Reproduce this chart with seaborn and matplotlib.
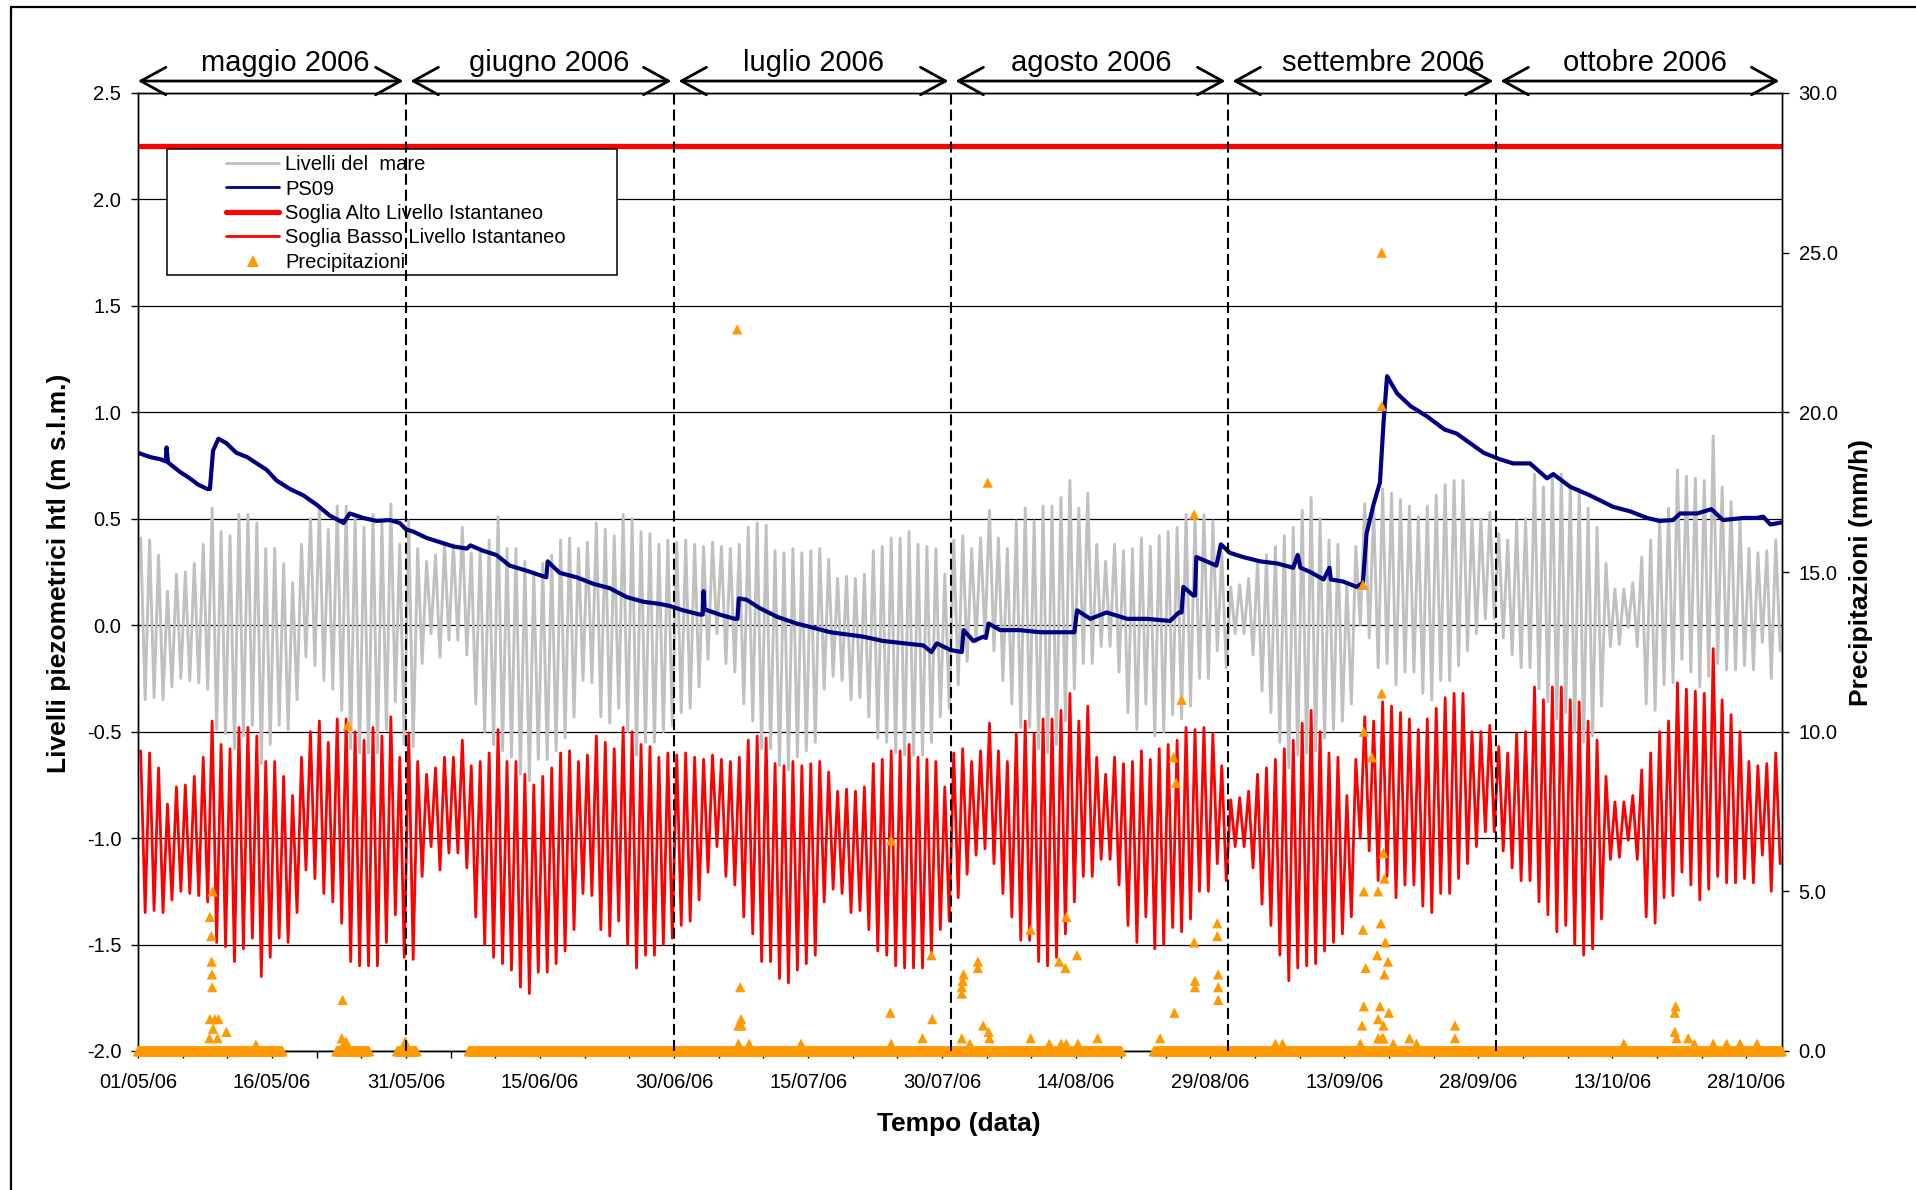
import numpy as np
import pandas as pd
import matplotlib
matplotlib.use("Agg")
import matplotlib.pyplot as plt
import matplotlib.transforms as mtransforms
import seaborn as sns
from matplotlib.lines import Line2D
from matplotlib.patches import Rectangle

# ------------------------------------------------------------------ data
# time axis: days since 01/05/06 00:00
month_labels = ["maggio 2006", "giugno 2006", "luglio 2006",
                "agosto 2006", "settembre 2006", "ottobre 2006"]
month_bounds = [0, 30, 60, 91, 122, 152, 184]
x_tick_days = [0, 15, 30, 45, 60, 75, 90, 105, 120, 135, 150, 165, 180]
x_tick_labels = ["01/05/06", "16/05/06", "31/05/06", "15/06/06", "30/06/06",
                 "15/07/06", "30/07/06", "14/08/06", "29/08/06", "13/09/06",
                 "28/09/06", "13/10/06", "28/10/06"]

# Livelli del mare: daily high / low water (m s.l.m.), one value per day
mare_alta = [
    0.41, 0.40, 0.33, 0.16, 0.24, 0.25, 0.29, 0.38, 0.55, 0.44, 0.42, 0.52, 0.52, 0.48, 0.36,
    0.36, 0.29, 0.20, 0.38, 0.50, 0.55, 0.45, 0.56, 0.56, 0.50, 0.46, 0.52, 0.48, 0.57, 0.38,
    0.49, 0.36, 0.30, 0.33, 0.38, 0.38, 0.46, 0.34, 0.36, 0.40, 0.51, 0.36, 0.36, 0.30, 0.25,
    0.29, 0.33, 0.40, 0.41, 0.36, 0.39, 0.48, 0.45, 0.42, 0.52, 0.50, 0.44, 0.43, 0.38, 0.40,
    0.39, 0.40, 0.38, 0.37, 0.39, 0.37, 0.36, 0.38, 0.46, 0.48, 0.47, 0.35, 0.34, 0.36, 0.34,
    0.35, 0.36, 0.31, 0.22, 0.23, 0.22, 0.24, 0.35, 0.37, 0.41, 0.41, 0.44, 0.38, 0.37, 0.36,
    0.24, 0.40, 0.42, 0.36, 0.41, 0.54, 0.41, 0.36, 0.49, 0.55, 0.49, 0.56, 0.56, 0.60, 0.68,
    0.55, 0.62, 0.38, 0.30, 0.38, 0.35, 0.36, 0.41, 0.37, 0.42, 0.44, 0.46, 0.52, 0.51, 0.52,
    0.49, 0.34, 0.18, 0.19, 0.22, 0.30, 0.33, 0.37, 0.42, 0.46, 0.54, 0.60, 0.50, 0.40, 0.38,
    0.20, 0.37, 0.57, 0.55, 0.64, 0.62, 0.59, 0.56, 0.51, 0.56, 0.61, 0.66, 0.68, 0.68, 0.50,
    0.50, 0.53, 0.43, 0.40, 0.49, 0.50, 0.71, 0.65, 0.71, 0.71, 0.65, 0.64, 0.55, 0.46, 0.29,
    0.17, 0.17, 0.20, 0.32, 0.40, 0.50, 0.55, 0.73, 0.70, 0.69, 0.68, 0.89, 0.65, 0.58, 0.50,
    0.36, 0.34, 0.35, 0.40]
mare_bassa = [
    -0.35, -0.34, -0.35, -0.29, -0.25, -0.26, -0.27, -0.30, -0.49, -0.51, -0.58, -0.52, -0.47, -0.65, -0.56,
    -0.47, -0.49, -0.35, -0.15, -0.19, -0.26, -0.30, -0.40, -0.58, -0.60, -0.60, -0.60, -0.49, -0.36, -0.56,
    -0.57, -0.18, -0.04, -0.15, -0.07, -0.07, -0.14, -0.37, -0.50, -0.56, -0.59, -0.62, -0.70, -0.73, -0.63,
    -0.63, -0.59, -0.53, -0.43, -0.26, -0.27, -0.43, -0.46, -0.39, -0.50, -0.61, -0.55, -0.55, -0.50, -0.47,
    -0.41, -0.39, -0.29, -0.16, -0.04, -0.18, -0.22, -0.37, -0.45, -0.58, -0.58, -0.66, -0.68, -0.62, -0.59,
    -0.55, -0.30, -0.24, -0.26, -0.35, -0.34, -0.43, -0.53, -0.55, -0.60, -0.61, -0.61, -0.61, -0.55, -0.43,
    -0.39, -0.28, -0.17, -0.08, -0.05, -0.12, -0.26, -0.37, -0.48, -0.48, -0.58, -0.60, -0.56, -0.45, -0.30,
    -0.18, -0.18, -0.10, -0.10, -0.22, -0.41, -0.49, -0.37, -0.52, -0.50, -0.42, -0.44, -0.38, -0.25, -0.25,
    -0.12, -0.20, -0.04, -0.04, -0.14, -0.31, -0.41, -0.55, -0.67, -0.61, -0.60, -0.59, -0.53, -0.49, -0.45,
    -0.37, 0.00, -0.06, -0.20, -0.18, -0.28, -0.22, -0.22, -0.32, -0.35, -0.26, -0.26, -0.19, -0.12, -0.04,
    0.03, 0.03, -0.06, -0.14, -0.20, -0.20, -0.30, -0.36, -0.44, -0.41, -0.50, -0.55, -0.52, -0.38, -0.10,
    -0.09, -0.01, -0.10, -0.37, -0.40, -0.28, -0.27, -0.16, -0.22, -0.29, -0.24, -0.18, -0.21, -0.21, -0.19,
    -0.21, -0.08, -0.25, -0.12]
ora_alta = 0.3    # time of day (fraction) of the high-water sample
ora_bassa = 0.8   # time of day of the low-water sample
# Soglia Basso Livello Istantaneo follows the sea level shifted by -1.0 m
soglia_basso_scarto = -1.0
soglia_alto = 2.25

# PS09 piezometric level (day, m s.l.m.)
ps09_giorni = [0, 1.34, 2.46, 3.1, 3.2, 3.35, 4.7, 5.8, 6.75, 7.75, 8.05, 8.4, 9.0, 9.9, 11.0,
               12.2, 13.3, 14.4, 15.5, 17.0, 18.5, 20.0, 21.5, 22.6, 23.0, 23.7, 25.2, 26.7, 28.2, 29.3,
               30.0, 30.8, 32.3, 33.8, 35.3, 36.8, 37.2, 38.6, 40.1, 41.6, 43.5, 45.7, 45.85, 47.2, 49.1,
               51.0, 52.8, 54.7, 56.6, 58.4, 59.55, 61.0, 62.9, 63.2, 63.3, 63.4, 65.1, 66.8, 67.1, 67.25,
               68.1, 69.6, 71.5, 73.7, 75.6, 77.5, 79.3, 81.2, 83.4, 85.7, 87.9, 88.8, 89.4, 90.9, 92.2,
               92.4, 93.5, 94.6, 94.9, 95.2, 96.5, 98.7, 101.0, 102.8, 104.8, 105.1, 106.6, 108.4, 110.7, 112.9,
               115.5, 116.5, 116.8, 117.0, 118.1, 118.3, 118.45, 119.6, 120.7, 121.2, 122.2, 123.7, 125.6, 127.5, 129.3,
               129.8, 130.1, 131.2, 132.7, 133.35, 133.5, 134.9, 136.4, 137.1, 137.5, 138.3, 139.0, 139.4, 139.8, 140.9,
               142.4, 144.3, 146.2, 147.6, 149.1, 150.6, 152.4, 153.9, 155.8, 157.7, 158.4, 160.3, 162.5, 165.1, 167.0,
               168.9, 170.3, 171.8, 172.6, 174.5, 176.1, 177.4, 179.7, 181.2, 181.9, 182.7, 184.0]
ps09_livello = [0.81, 0.79, 0.78, 0.77, 0.835, 0.765, 0.72, 0.69, 0.66, 0.64, 0.64, 0.82, 0.876, 0.855, 0.81,
                0.79, 0.76, 0.73, 0.68, 0.64, 0.61, 0.566, 0.514, 0.49, 0.48, 0.525, 0.504, 0.49, 0.494, 0.48,
                0.45, 0.44, 0.41, 0.39, 0.37, 0.36, 0.375, 0.35, 0.33, 0.28, 0.256, 0.225, 0.30, 0.246, 0.225,
                0.194, 0.174, 0.132, 0.11, 0.10, 0.09, 0.07, 0.05, 0.05, 0.16, 0.075, 0.05, 0.03, 0.03, 0.126,
                0.12, 0.08, 0.04, 0.008, -0.012, -0.033, -0.043, -0.054, -0.074, -0.085, -0.095, -0.126, -0.085, -0.116, -0.126,
                -0.023, -0.074, -0.054, -0.06, 0.008, -0.023, -0.023, -0.033, -0.033, -0.033, 0.07, 0.03, 0.06, 0.03, 0.03,
                0.02, 0.06, 0.06, 0.18, 0.14, 0.14, 0.32, 0.30, 0.28, 0.38, 0.34, 0.32, 0.30, 0.29, 0.27,
                0.33, 0.27, 0.25, 0.215, 0.27, 0.215, 0.205, 0.18, 0.20, 0.43, 0.57, 0.67, 0.95, 1.17, 1.09,
                1.03, 0.98, 0.92, 0.90, 0.855, 0.81, 0.78, 0.76, 0.76, 0.69, 0.71, 0.65, 0.61, 0.556, 0.535,
                0.504, 0.49, 0.494, 0.525, 0.525, 0.545, 0.494, 0.504, 0.504, 0.51, 0.473, 0.483]

# Precipitazioni (mm/h): hourly records; periods with data recorded as 0 mm/h
pioggia_periodi_zero = [(0.0, 16.2), (22.2, 25.9), (29.0, 31.2), (37.0, 110.1), (113.7, 184.0)]
pioggia_giorni = [8.36, 8.05, 8.2, 8.24, 8.27, 8.3, 8.05, 8.6, 9.0, 9.9, 8.0, 8.9, 8.4, 13.2,
                  22.9, 23.5, 22.8, 23.0, 23.3, 29.7, 29.9,
                  67.06, 67.4, 67.5, 67.2, 67.55, 67.2, 68.4, 74.2, 84.3, 84.2, 84.3, 88.8, 88.9, 87.8,
                  95.1, 92.2, 92.4, 92.3, 92.2, 94.0, 94.0, 94.6, 95.2, 95.3, 92.2, 93.1, 99.9, 99.9, 102.0,
                  103.1, 103.8, 103.9, 105.1, 105.2, 103.3, 103.9, 107.4, 114.4, 116.0, 115.9, 116.2, 116.8, 118.2, 118.2,
                  118.3, 118.3, 120.8, 120.8, 120.9, 120.9, 120.9,
                  127.3, 128.1, 137.1, 137.2, 139.4, 139.5, 137.2, 138.8, 139.2, 138.1, 139.2, 139.2, 137.1, 137.4,
                  139.1, 139.6, 138.7, 139.9, 139.5, 137.2, 137.0, 139.0, 140.0, 138.8, 139.4, 138.8, 139.2, 139.4,
                  140.5, 142.3, 143.1, 147.4, 147.4, 136.8,
                  166.3, 172.1, 172.0, 172.0, 172.2, 173.5, 174.2, 176.3, 177.8, 179.3, 181.2]
pioggia_mmh = [5.0, 4.2, 3.6, 2.8, 2.4, 2.0, 1.0, 1.0, 1.0, 0.6, 0.4, 0.4, 0.7, 0.2,
               1.6, 10.2, 0.4, 0.2, 0.3, 0.15, 0.3,
               22.6, 2.0, 1.0, 0.8, 0.8, 0.23, 0.23, 0.23, 6.6, 1.2, 0.23, 3.0, 1.0, 0.4,
               17.8, 1.8, 2.4, 2.2, 2.0, 2.8, 2.6, 0.8, 0.6, 0.4, 0.4, 0.23, 3.8, 0.4, 0.23,
               2.8, 2.6, 4.2, 3.0, 0.23, 0.23, 0.23, 0.4, 0.4, 1.2, 9.2, 8.4, 11.0, 16.8, 3.4,
               2.2, 2.0, 4.0, 3.6, 2.4, 2.0, 1.6,
               0.23, 0.23, 14.6, 10.0, 6.2, 5.4, 5.0, 5.0, 11.2, 9.2, 20.2, 25.0, 3.8, 2.6,
               4.0, 3.4, 3.0, 2.8, 2.4, 1.4, 0.8, 1.4, 1.2, 1.0, 0.8, 0.4, 0.4, 0.4,
               0.23, 0.4, 0.23, 0.8, 0.4, 0.23,
               0.23, 1.4, 1.2, 0.6, 0.4, 0.4, 0.23, 0.23, 0.23, 0.23, 0.23]

legend_labels = ["Livelli del  mare", "PS09", "Soglia Alto Livello Istantaneo",
                 "Soglia Basso Livello Istantaneo", "Precipitazioni"]

# ------------------------------------------------------------------ tables
giorni = np.arange(len(mare_alta))
t_mare = np.ravel(np.column_stack([giorni + ora_alta, giorni + ora_bassa]))
v_mare = np.ravel(np.column_stack([mare_alta, mare_bassa]))
df_mare = pd.DataFrame({"t": t_mare, "livello": v_mare})
df_basso = pd.DataFrame({"t": t_mare, "livello": v_mare + soglia_basso_scarto})
df_ps09 = pd.DataFrame({"t": ps09_giorni, "livello": ps09_livello})
df_alto = pd.DataFrame({"t": [month_bounds[0], month_bounds[-1]],
                        "livello": [soglia_alto, soglia_alto]})
zero_t = np.concatenate([np.arange(a, b, 1 / 24) for a, b in pioggia_periodi_zero])
df_pioggia = pd.DataFrame({"t": np.concatenate([zero_t, pioggia_giorni]),
                           "mmh": np.concatenate([np.zeros(len(zero_t)), pioggia_mmh])})

# ------------------------------------------------------------------ style
sns.set_theme(style="white")
plt.rcParams["font.family"] = ["Liberation Sans", "DejaVu Sans"]
plt.rcParams["text.color"] = "black"
plt.rcParams["axes.labelcolor"] = "black"

C_MARE = "#C0C0C0"
C_PS09 = "#000080"
C_RED = "#FF0000"
C_RAIN = "#FF9900"

# layout: horizontal centres (days) of the month captions above the arrows
month_caption_x = [16.5, 46.0, 75.6, 106.7, 139.4, 168.7]

W, H = 1916, 1190
fig = plt.figure(figsize=(W / 100, H / 100), dpi=100)
fig.patch.set_facecolor("white")
L, R, T, B = 138, 1782, 93, 1051
ax = fig.add_axes([L / W, 1 - B / H, (R - L) / W, (B - T) / H])
ax2 = ax.twinx()

# grid
ax.set_ylim(-2.0, 2.5)
ax.set_yticks(np.arange(-2.0, 2.51, 0.5))
ax.yaxis.grid(True, color="black", lw=0.9, zorder=0)
ax.xaxis.grid(False)
ax.set_axisbelow(True)

sns.lineplot(data=df_mare, x="t", y="livello", ax=ax, color=C_MARE, lw=2.1,
             estimator=None, sort=False, legend=False, zorder=2)
sns.lineplot(data=df_ps09, x="t", y="livello", ax=ax, color=C_PS09, lw=3.0,
             estimator=None, sort=False, legend=False, zorder=3)
sns.lineplot(data=df_alto, x="t", y="livello", ax=ax, color=C_RED, lw=3.8,
             estimator=None, sort=False, legend=False, zorder=3)
sns.lineplot(data=df_basso, x="t", y="livello", ax=ax, color=C_RED, lw=2.0,
             estimator=None, sort=False, legend=False, zorder=4)

ax.set_xlim(month_bounds[0], month_bounds[-1])
ax.set_xticks(np.arange(month_bounds[0], 181, 5))
ax.set_xticklabels([x_tick_labels[x_tick_days.index(d)] if d in x_tick_days else ""
                    for d in np.arange(month_bounds[0], 181, 5)])
ax.set_yticklabels([f"{v:.1f}" for v in np.arange(-2.0, 2.51, 0.5)])
ax.set_xlabel("")
ax.set_ylabel("")

# precipitation on secondary axis
sns.scatterplot(data=df_pioggia, x="t", y="mmh", ax=ax2, marker="^", s=55,
                color=C_RAIN, edgecolor="none", linewidth=0, legend=False,
                clip_on=False, zorder=3)
ax2.set_ylim(0, 30)
ax2.set_yticks(np.arange(0, 30.1, 5))
ax2.set_yticklabels([f"{v:.1f}" for v in np.arange(0, 30.1, 5)])
ax2.set_ylabel("")
ax2.set_xlim(month_bounds[0], month_bounds[-1])

for a in (ax, ax2):
    for s in a.spines.values():
        s.set_color("black")
        s.set_linewidth(1.0)
ax.tick_params(axis="x", bottom=True, direction="out", length=5, width=1,
               pad=11, labelsize=14.5, labelcolor="black", color="black")
ax.tick_params(axis="y", left=True, direction="out", length=5, width=1,
               pad=7, labelsize=14.5, labelcolor="black", color="black")
ax2.tick_params(axis="y", right=True, direction="out", length=5, width=1,
                pad=7, labelsize=14.5, labelcolor="black", color="black")

# month separators (dashed, drawn over everything)
for d in month_bounds[1:-1]:
    ax2.axvline(d, color="black", lw=1.5, ls=(0, (5.3, 2.4)), zorder=7)

# month arrows and labels above the plot
blend = mtransforms.blended_transform_factory(ax.transData, ax.transAxes)
for i, lab in enumerate(month_labels):
    a0 = month_bounds[i] + (0.5 if i > 0 else 0.0)
    a1 = month_bounds[i + 1] - 0.3
    ax.annotate("", xy=(a1, 1.0125), xycoords=blend, xytext=(a0, 1.0125), textcoords=blend,
                arrowprops=dict(arrowstyle="<->,head_length=0.4,head_width=0.22",
                                lw=2.0, color="black", shrinkA=0, shrinkB=0,
                                mutation_scale=45),
                annotation_clip=False)
    ax.text(month_caption_x[i], 1.0318, lab, transform=blend, ha="center", va="center",
            fontsize=21, color="black")

# legend (box drawn separately, as in the original)
ax2.add_patch(Rectangle((0.01764, 0.8100), 0.2738, 0.1315, transform=ax2.transAxes,
                        facecolor="white", edgecolor="black", lw=1.1, zorder=5))
handles = [Line2D([], [], color=C_MARE, lw=2.0),
           Line2D([], [], color=C_PS09, lw=2.0),
           Line2D([], [], color=C_RED, lw=3.8),
           Line2D([], [], color=C_RED, lw=2.0),
           Line2D([], [], color=C_RAIN, lw=0, marker="^", markersize=8, markeredgewidth=0)]
leg = ax2.legend(handles, legend_labels, loc="upper left", bbox_to_anchor=(0.0535, 0.9352),
                 frameon=False, borderpad=0, borderaxespad=0, handlelength=2.64,
                 handletextpad=0.3, labelspacing=0.27, fontsize=14.5, numpoints=1)
leg.set_zorder(6)

# axis titles
fig.text(58.7 / W, 0.5185, "Livelli piezometrici htl (m s.l.m.)", rotation=90,
         ha="center", va="center", fontsize=19, fontweight="bold")
fig.text(1861 / W, 0.5185, "Precipitazioni (mm/h)", rotation=90,
         ha="center", va="center", fontsize=19, fontweight="bold")
fig.text(959 / W, 1 - 1124 / H, "Tempo (data)", ha="center", va="center",
         fontsize=19, fontweight="bold")

# outer frame (top and left edges visible)
fig.add_artist(Line2D([11 / W, 1.0], [1 - 7 / H, 1 - 7 / H], transform=fig.transFigure,
                      color="black", lw=1.6))
fig.add_artist(Line2D([11 / W, 11 / W], [0.0, 1 - 7 / H], transform=fig.transFigure,
                      color="black", lw=1.6))

fig.savefig("out.png", dpi=100, facecolor="white")
